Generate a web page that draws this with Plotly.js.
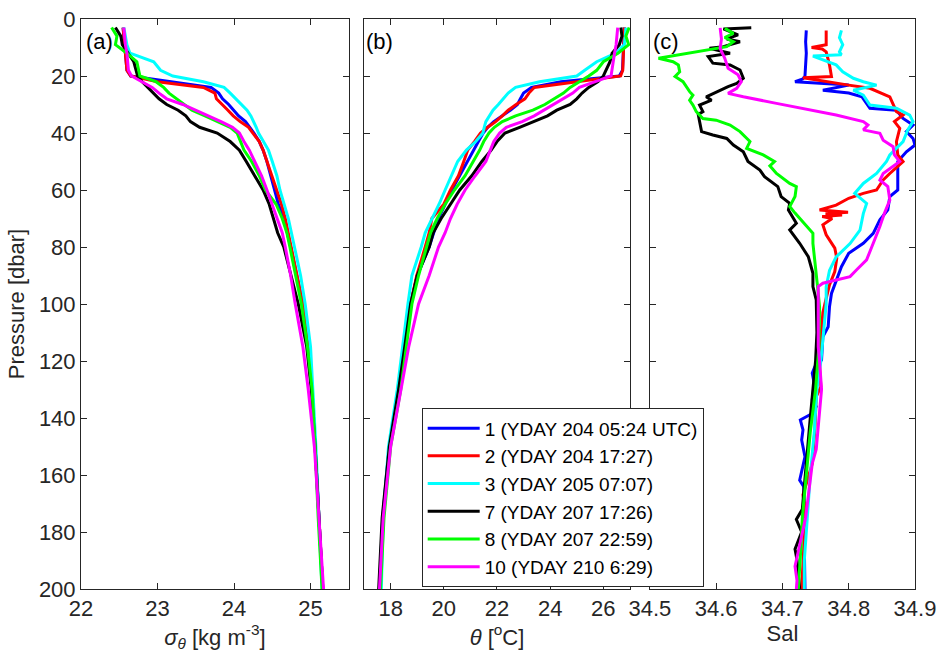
<!DOCTYPE html>
<html>
<head>
<meta charset="utf-8">
<script src="https://cdn.plot.ly/plotly-3.0.1.min.js"></script>
<style>html,body{margin:0;padding:0;background:#fff;}#chart{width:941px;height:655px;}</style>
</head>
<body>
<div id="chart"></div>
<script>
// ---- Legend labels / colors ----
const profileNames = ['1 (YDAY 204 05:24 UTC)', '2 (YDAY 204 17:27)', '3 (YDAY 205 07:07)',
                      '7 (YDAY 207 17:26)', '8 (YDAY 207 22:59)', '10 (YDAY 210 6:29)'];
const profileColors = ['#0000ff', '#ff0000', '#00ffff', '#000000', '#00ff00', '#ff00ff'];

// ---- Pressure levels used for sigma-theta and theta panels (dbar) ----
const presA = [3, 6, 9, 12, 15, 18, 20, 22, 24, 26, 28, 30, 32, 34, 36, 38, 40, 43, 46, 50, 55, 60, 65, 70, 75, 80, 90, 100, 115, 130, 150, 175, 200];

// ---- (a) sigma-theta [kg m-3] ----
const sig1  = [22.55,22.56,22.57,22.58,22.59,22.60,22.65,23.20,23.70,23.80,23.85,23.93,23.99,24.06,24.15,24.21,24.26,24.33,24.38,24.43,24.48,24.53,24.58,24.65,24.70,24.74,24.82,24.90,24.97,25.02,25.06,25.11,25.16];
const sig2  = [22.55,22.56,22.57,22.58,22.59,22.60,22.65,23.00,23.60,23.75,23.77,23.85,23.92,23.99,24.08,24.19,24.25,24.33,24.38,24.43,24.50,24.56,24.62,24.67,24.71,24.75,24.83,24.90,24.97,25.02,25.06,25.11,25.16];
const sig3  = [22.56,22.58,22.60,22.64,22.95,23.04,23.20,23.60,23.87,23.95,24.02,24.09,24.17,24.22,24.26,24.29,24.32,24.38,24.45,24.50,24.56,24.60,24.66,24.71,24.75,24.79,24.87,24.93,25.00,25.03,25.07,25.11,25.15];
const sig7  = [22.45,22.52,22.54,22.62,22.69,22.72,22.74,22.80,22.87,22.95,23.02,23.12,23.27,23.37,23.43,23.55,23.78,23.95,24.07,24.16,24.27,24.38,24.46,24.51,24.57,24.65,24.74,24.84,24.95,25.01,25.06,25.11,25.16];
const sig8  = [22.40,22.47,22.45,22.60,22.73,22.76,22.77,22.98,23.08,23.15,23.25,23.35,23.45,23.62,23.78,23.95,24.04,24.08,24.13,24.23,24.33,24.41,24.55,24.63,24.69,24.73,24.81,24.88,24.96,25.02,25.06,25.10,25.15];
const sig10 = [22.56,22.57,22.58,22.60,22.61,22.62,22.66,22.80,22.93,23.02,23.12,23.33,23.50,23.65,23.83,23.98,24.07,24.13,24.20,24.27,24.36,24.43,24.50,24.57,24.63,24.67,24.74,24.80,24.90,24.97,25.05,25.11,25.17];

// ---- (b) potential temperature [degC] ----
const th1  = [26.79,26.78,26.77,26.75,26.74,26.72,26.60,24.40,23.30,23.00,22.88,22.77,22.50,22.18,21.88,21.65,21.48,21.30,21.12,20.88,20.60,20.30,20.05,19.80,19.62,19.45,19.00,18.75,18.55,18.30,17.95,17.70,17.58];
const th2  = [26.79,26.78,26.77,26.75,26.74,26.73,26.65,25.00,23.40,23.20,23.05,22.72,22.42,22.20,21.95,21.65,21.38,21.15,20.90,20.75,20.55,20.25,20.00,19.55,19.45,19.30,18.98,18.75,18.55,18.30,17.95,17.72,17.60];
const th3  = [26.85,26.83,26.79,26.47,25.75,25.30,25.00,23.60,22.70,22.42,22.25,22.05,21.85,21.70,21.58,21.52,21.47,21.20,20.85,20.52,20.30,20.05,19.82,19.55,19.30,19.15,18.80,18.65,18.45,18.25,17.92,17.72,17.65];
const th7  = [26.66,26.70,26.60,26.33,26.25,26.10,26.00,25.80,25.45,25.20,25.00,24.75,24.25,23.90,23.40,22.85,22.30,22.00,21.78,21.43,21.05,20.60,20.25,19.90,19.60,19.45,19.00,18.75,18.53,18.30,17.95,17.68,17.55];
const th8  = [26.97,26.85,26.95,26.55,26.00,25.75,25.45,25.10,24.75,24.50,24.15,23.80,23.35,22.70,22.20,21.90,21.70,21.50,21.35,21.10,20.80,20.40,20.05,19.75,19.50,19.35,19.05,18.80,18.60,18.38,18.00,17.75,17.62];
const th10 = [26.54,26.52,26.48,26.42,26.37,26.33,26.29,25.70,25.10,24.85,24.50,24.15,23.80,23.40,22.95,22.35,22.10,21.88,21.75,21.58,21.18,20.80,20.50,20.25,20.05,19.80,19.45,19.05,18.68,18.40,18.00,17.72,17.58];

// ---- (c) salinity, each profile with its own pressure levels ----
const salP1 = [4,8,12,16,20,21,22,23.2,25,26,27.3,31.3,32,34.9,37.2,39.5,41.9,44.2,46.6,50,53,60,62.3,67,70.5,75.2,78.7,82.2,86.9,91.6,96.3,101,108,111.5,119.7,122,124.3,128,133.7,136,138.4,140.7,144.2,147.7,153.6,161.8,164,175,185,200];
const sal1  = [34.736,34.735,34.736,34.735,34.734,34.731,34.719,34.800,34.761,34.800,34.820,34.832,34.872,34.882,34.897,34.887,34.897,34.900,34.887,34.874,34.874,34.874,34.862,34.859,34.847,34.837,34.822,34.800,34.789,34.781,34.774,34.771,34.769,34.761,34.759,34.749,34.745,34.748,34.745,34.751,34.745,34.727,34.731,34.729,34.734,34.726,34.732,34.734,34.733,34.734];
const salP2 = [4,9,10,10.5,11.5,16.1,20.2,20.6,23.2,24.3,27.3,32.5,33.7,36,38.4,43,47.7,50,54.2,56.5,60,61.2,62.9,65.3,67,67.8,68.3,68.8,69.3,70,72.2,75.7,80.4,83.9,88.6,93.3,98,103,109,115,122,129,132.5,144,156,167,173,185,200];
const sal2  = [34.766,34.766,34.744,34.760,34.766,34.771,34.774,34.731,34.800,34.832,34.862,34.872,34.882,34.869,34.877,34.872,34.874,34.882,34.862,34.852,34.842,34.822,34.800,34.781,34.756,34.799,34.765,34.790,34.760,34.775,34.761,34.766,34.779,34.782,34.779,34.771,34.766,34.761,34.759,34.757,34.756,34.758,34.751,34.749,34.745,34.731,34.735,34.732,34.729];
const salP3 = [4,6.5,9,11.5,12.5,13,16.1,18.5,20.8,22,23.2,25,26.7,30.2,31.3,33.7,36,38.9,43,45.4,47.7,50,54.2,57.7,61.2,64.7,68.3,74.1,78.8,83.5,88.2,94,100,110,120,130,145,160,175,190,200];
const sal3  = [34.789,34.786,34.791,34.786,34.789,34.746,34.781,34.791,34.807,34.822,34.842,34.807,34.822,34.832,34.872,34.892,34.897,34.889,34.882,34.872,34.862,34.857,34.842,34.822,34.809,34.827,34.822,34.817,34.802,34.781,34.771,34.766,34.766,34.762,34.758,34.752,34.748,34.742,34.737,34.733,34.733];
const salP7 = [3.1,3.5,5.6,7,8,9.7,10.3,12,13.2,15.5,16.1,17.9,20.8,22.6,23.7,25.5,27.3,28.5,30.2,32.5,33.5,36,39.5,40.7,41.9,44.2,46.6,50,53,55.3,58.8,62.3,64.7,67,71.7,74,78.7,83.4,89.2,93.9,98.6,110,120,140,160,172,175.6,180,186,189.8,200];
const sal7  = [34.653,34.611,34.633,34.616,34.636,34.611,34.590,34.621,34.588,34.595,34.621,34.636,34.641,34.631,34.618,34.601,34.585,34.593,34.575,34.580,34.573,34.575,34.578,34.595,34.616,34.626,34.641,34.648,34.666,34.673,34.693,34.698,34.711,34.709,34.721,34.711,34.726,34.739,34.746,34.746,34.751,34.752,34.750,34.742,34.734,34.730,34.721,34.729,34.719,34.722,34.726];
const salP8 = [3.3,5,6.5,8,9.7,13.8,15,16.1,18.5,20.2,22,25.5,26.7,28.5,30.2,32.5,34.9,35.5,37.2,39.5,43,45.4,47.7,50,51.5,54.2,57.7,58.8,62.3,65.8,68.1,72.8,75.2,78.7,84.5,96.2,101,115,130,145,160,175,185,200];
const sal8  = [34.613,34.626,34.613,34.626,34.616,34.513,34.535,34.543,34.545,34.538,34.550,34.560,34.565,34.560,34.565,34.570,34.580,34.600,34.621,34.636,34.651,34.646,34.671,34.688,34.681,34.691,34.711,34.721,34.719,34.711,34.719,34.736,34.746,34.746,34.749,34.754,34.756,34.755,34.750,34.742,34.736,34.730,34.728,34.724];
const salP10 = [3.1,7,10.3,13.8,17.3,19.6,22,24.3,26.1,27.3,29.6,31.9,33.7,36,37.2,38.9,40.1,42.5,44.8,47.7,50,54.2,56.5,58.8,63.5,68.1,72.8,78.7,84.5,88,90.4,92.7,93.9,104,115,120,130,151,156,175,192,197,200];
const sal10  = [34.606,34.608,34.606,34.613,34.618,34.633,34.638,34.631,34.618,34.641,34.691,34.741,34.781,34.822,34.829,34.822,34.847,34.852,34.867,34.869,34.877,34.852,34.847,34.859,34.862,34.854,34.847,34.837,34.827,34.812,34.802,34.761,34.754,34.754,34.754,34.756,34.759,34.751,34.745,34.735,34.719,34.722,34.721];

// ---- Axis ticks ----
const presTicks = [0,20,40,60,80,100,120,140,160,180,200];
const sigTicks = [22,23,24,25];
const thTicks = [18,20,22,24,26];
const salTicks = [34.5,34.6,34.7,34.8,34.9];

const sigSeries = [sig1, sig2, sig3, sig7, sig8, sig10];
const thSeries = [th1, th2, th3, th7, th8, th10];
const salPres = [salP1, salP2, salP3, salP7, salP8, salP10];
const salSeries = [sal1, sal2, sal3, sal7, sal8, sal10];

const LW = 3;
const traces = [];
for (let i = 0; i < 6; i++) {
  traces.push({x: sigSeries[i], y: presA, xaxis: 'x', yaxis: 'y', mode: 'lines',
    line: {color: profileColors[i], width: LW}, name: profileNames[i], legendgroup: 'g' + i, showlegend: true});
}
for (let i = 0; i < 6; i++) {
  traces.push({x: thSeries[i], y: presA, xaxis: 'x2', yaxis: 'y2', mode: 'lines',
    line: {color: profileColors[i], width: LW}, name: profileNames[i], legendgroup: 'g' + i, showlegend: false});
}
for (let i = 0; i < 6; i++) {
  traces.push({x: salSeries[i], y: salPres[i], xaxis: 'x3', yaxis: 'y3', mode: 'lines',
    line: {color: profileColors[i], width: LW}, name: profileNames[i], legendgroup: 'g' + i, showlegend: false});
}

const FONT = 'Liberation Sans, Arial, Helvetica, sans-serif';
const axColor = '#262626';
function xax(domain, range, ticks, title, anchor) {
  return {domain: domain, range: range, tickvals: ticks, ticktext: ticks.map(String),
    ticks: 'inside', ticklen: 6, tickcolor: axColor, showline: true, linecolor: axColor, linewidth: 1,
    mirror: 'ticks', showgrid: false, zeroline: false, anchor: anchor,
    tickfont: {family: FONT, size: 22, color: axColor},
    title: {text: title, font: {family: FONT, size: 22, color: axColor}, standoff: 4}};
}
function yax(domainAnchor, showLabels) {
  return {range: [200, 0], tickvals: presTicks, ticks: 'inside', ticklen: 6, tickcolor: axColor,
    showline: true, linecolor: axColor, linewidth: 1, mirror: 'ticks', showgrid: false, zeroline: false,
    anchor: domainAnchor, showticklabels: showLabels,
    tickfont: {family: FONT, size: 22, color: axColor}};
}

const layout = {
  width: 941, height: 655,
  margin: {l: 81, r: 26, t: 19, b: 66},
  paper_bgcolor: '#ffffff', plot_bgcolor: '#ffffff',
  font: {family: FONT, size: 22, color: axColor},
  showlegend: true,
  legend: {x: 0.4085, y: 0.317, xanchor: 'left', yanchor: 'top', bgcolor: '#ffffff',
    bordercolor: axColor, borderwidth: 1, font: {family: FONT, size: 19, color: '#000000'},
    tracegroupgap: 0, itemwidth: 52, entrywidth: 262, entrywidthmode: 'pixels'},
  xaxis: xax([0, 0.3211], [22, 25.5], sigTicks, '<i>σ</i><sub><i>θ</i></sub> [kg m<sup>-3</sup>]', 'y'),
  xaxis2: xax([0.3394, 0.6582], [17, 27], thTicks, '<i>θ</i> [<sup>o</sup>C]', 'y2'),
  xaxis3: xax([0.6821, 1], [34.5, 34.9], salTicks, 'Sal', 'y3'),
  yaxis: Object.assign(yax('x', true), {title: {text: 'Pressure [dbar]', font: {family: FONT, size: 22, color: axColor}, standoff: 8}}),
  yaxis2: yax('x2', false),
  yaxis3: yax('x3', false),
  annotations: [
    {text: '(a)', xref: 'x domain', yref: 'y domain', x: 0.012, y: 0.986, xanchor: 'left', yanchor: 'top', showarrow: false, font: {family: FONT, size: 22, color: '#000'}},
    {text: '(b)', xref: 'x2 domain', yref: 'y2 domain', x: 0.0, y: 0.986, xanchor: 'left', yanchor: 'top', showarrow: false, font: {family: FONT, size: 22, color: '#000'}},
    {text: '(c)', xref: 'x3 domain', yref: 'y3 domain', x: 0.005, y: 0.986, xanchor: 'left', yanchor: 'top', showarrow: false, font: {family: FONT, size: 22, color: '#000'}}
  ]
};

Plotly.newPlot('chart', traces, layout, {displayModeBar: false, staticPlot: true});
</script>
</body>
</html>
